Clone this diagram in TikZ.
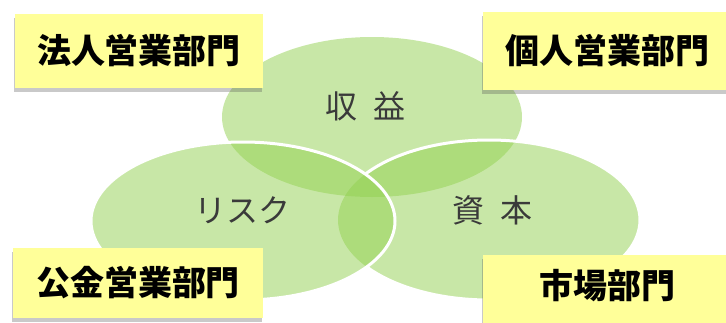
\documentclass[tikz,border=0pt]{standalone}
\usepackage{fontspec}
\newfontfamily\cjk{Noto Sans CJK JP}
\usetikzlibrary{shadows}
\definecolor{vgreen}{HTML}{92D050}
\definecolor{boxy}{HTML}{FFFF99}
\definecolor{txt}{HTML}{3A3A3A}
\begin{document}
\begin{tikzpicture}[x=1pt,y=-1pt,
  lobe/.style={fill=vgreen, fill opacity=0.5},
  rim/.style={draw=white, line width=3pt},
  dept/.style={fill=boxy, inner sep=0pt, text=black,
    font=\cjk\bfseries\fontsize{34}{34}\selectfont,
    drop shadow={shadow xshift=-1.5pt, shadow yshift=-4pt, opacity=0.3, fill=black!70}},
  lbl/.style={font=\cjk\fontsize{32}{32}\selectfont, text=txt, inner sep=0pt}]
\useasboundingbox (0,0) rectangle (726,322);
\coordinate (cT) at (372,117);
\coordinate (cL) at (243,221);
\coordinate (cR) at (489,220);
% fills
\path[lobe] (cT) ellipse [x radius=150, y radius=80];
\path[lobe] (cR) ellipse [x radius=151, y radius=80];
\path[lobe] (cL) ellipse [x radius=152, y radius=79];
% right rim, hidden inside the left lobe
\begin{scope}
  \clip (-10,-10) -- (740,-10) -- (740,340) -- (-10,340) -- cycle
        ([xshift=152pt]cL) arc [start angle=0, end angle=-360, x radius=152, y radius=79];
  \draw[rim] (cR) ellipse [x radius=151, y radius=80];
\end{scope}
\draw[rim] (cL) ellipse [x radius=152, y radius=79];
% lobe labels
\node[lbl] (shueki) at (365,106) {収\hspace{0.5em}益};
\node[lbl] (risk) at (242,210) {リスク};
\node[lbl] (shihon) at (492,210) {資\hspace{0.5em}本};
% department boxes
\node[dept, minimum width=248pt, minimum height=74pt] (hojin) at (139,51) {法人営業部門};
\node[dept, minimum width=248pt, minimum height=78pt] (kojin) at (607,51) {個人営業部門};
\node[dept, minimum width=250pt, minimum height=70pt] (kokin) at (138,283) {公金営業部門};
\node[dept, minimum width=248pt, anchor=north, text height=43pt, text depth=32pt] (shijo) at (607,255) {市場部門};
\end{tikzpicture}
\end{document}
